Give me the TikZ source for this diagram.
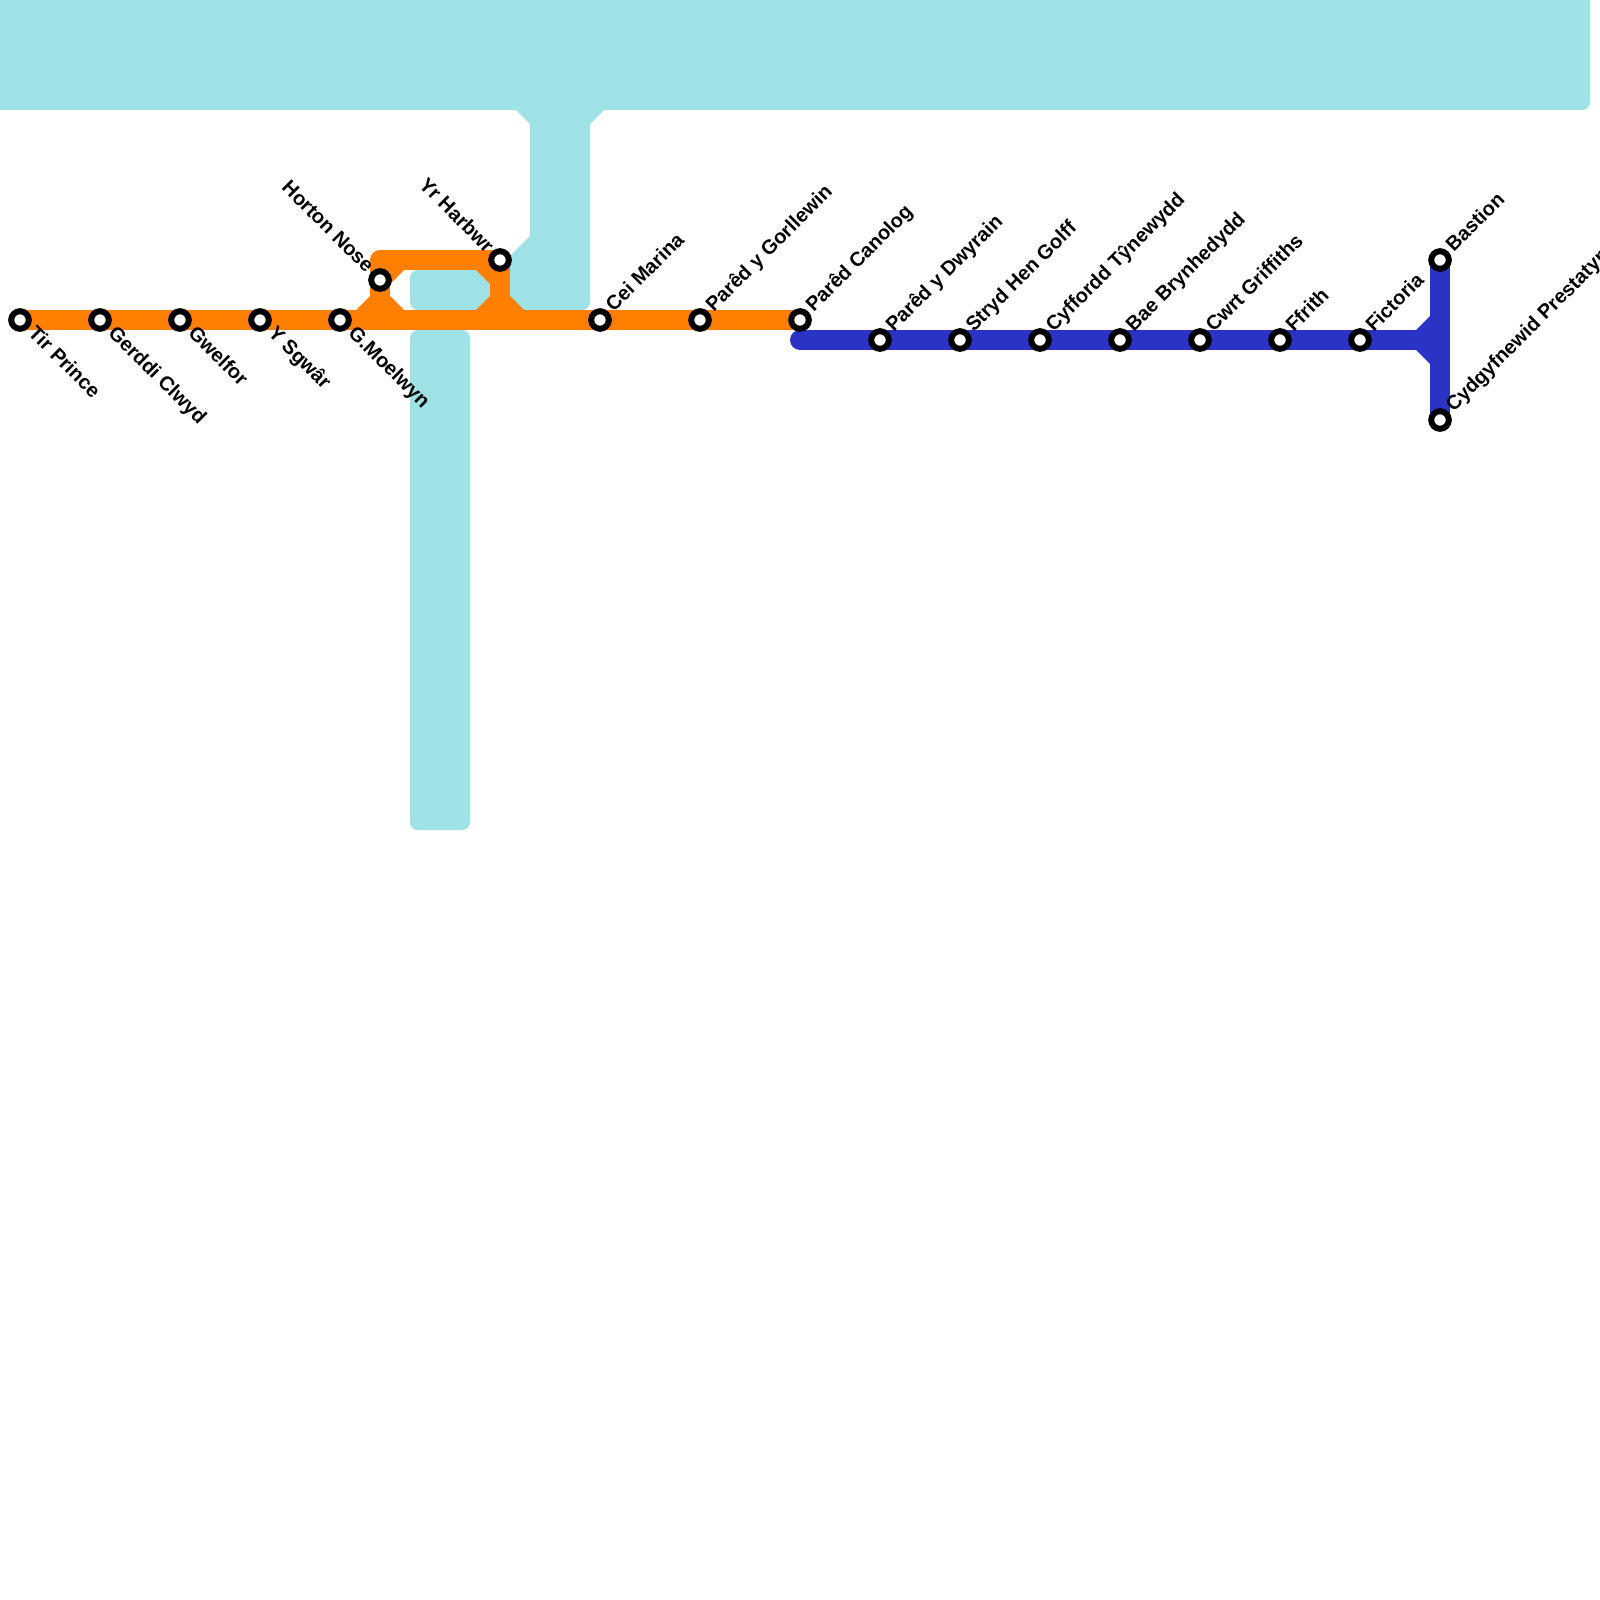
\documentclass[tikz,border=0pt]{standalone}
\usepackage{fontspec}
\usetikzlibrary{backgrounds}
\setmainfont{Liberation Sans}
\definecolor{water}{RGB}{158,226,229}
\definecolor{orangeline}{RGB}{255,128,0}
\definecolor{blueline}{RGB}{42,51,196}
\tikzset{
  x=0.5pt,y=-0.5pt,
  waterfill/.style={fill=water,draw=none},
  orangepath/.style={draw=orangeline,line width=10pt,line join=round},
  orangefill/.style={fill=orangeline,draw=none},
  bluepath/.style={draw=blueline,line width=10pt,line join=round},
  bluefill/.style={fill=blueline,draw=none},
  stn/.style={circle,draw=black,fill=white,line width=3pt,outer sep=0pt,minimum size=8.8pt,inner sep=0pt},
  lblup/.style={rotate=45,anchor=base west,inner sep=0pt,font=\fontsize{10}{12}\selectfont\bfseries},
  lbldown/.style={rotate=-45,anchor=base west,inner sep=0pt,font=\fontsize{10}{12}\selectfont\bfseries},
  lblback/.style={rotate=-45,anchor=base east,inner sep=0pt,font=\fontsize{10}{12}\selectfont\bfseries},
}
\begin{document}
\begin{tikzpicture}
\useasboundingbox (0,0) rectangle (1600,1600);
% junction coordinates
\coordinate (jh) at (380,320);
\coordinate (jh2) at (500,320);
\coordinate (jc) at (380,260);
\coordinate (jb) at (1440,340);
\coordinate (b0) at (800,340);
% stations
\node[stn] (s1) at (20,320) {};
\node[stn] (s2) at (100,320) {};
\node[stn] (s3) at (180,320) {};
\node[stn] (s4) at (260,320) {};
\node[stn] (s5) at (340,320) {};
\node[stn] (s6) at (380,280) {};
\node[stn] (s7) at (500,260) {};
\node[stn] (s8) at (600,320) {};
\node[stn] (s9) at (700,320) {};
\node[stn] (s10) at (800,320) {};
\node[stn] (s11) at (880,340) {};
\node[stn] (s12) at (960,340) {};
\node[stn] (s13) at (1040,340) {};
\node[stn] (s14) at (1120,340) {};
\node[stn] (s15) at (1200,340) {};
\node[stn] (s16) at (1280,340) {};
\node[stn] (s17) at (1360,340) {};
\node[stn] (s18) at (1440,260) {};
\node[stn] (s19) at (1440,420) {};
\begin{scope}[on background layer]
% water
\fill[waterfill,rounded corners=4pt] (-40,-40) rectangle (1590,110);
\fill[waterfill] (516,110) -- (530,124) -- (590,124) -- (604,110) -- cycle;
\fill[waterfill] (530,100) -- (530,236) -- (500,266) -- (500,310) [rounded corners=4pt] -- (590,310) [sharp corners] -- (590,100) -- cycle;
\fill[waterfill,rounded corners=4pt] (410,270) rectangle (520,310);
\fill[waterfill,rounded corners=4pt] (410,330) rectangle (470,830);
% blue line
\fill[bluefill] (1416,330) -- (1430,316) -- (1430,364) -- (1416,350) -- cycle;
\draw[bluepath,line cap=round] (b0) -- (jb);
\draw[bluepath] (s18.center) -- (s19.center);
% orange line
\fill[orangefill] (356,310) -- (370,296) -- (390,296) -- (404,310) -- cycle;
\fill[orangefill] (476,310) -- (490,296) -- (510,296) -- (524,310) -- cycle;
\fill[orangefill] (404,270) -- (390,284) -- (390,270) -- cycle;
\fill[orangefill] (476,270) -- (490,284) -- (490,270) -- cycle;
\draw[orangepath] (s1.center) -- (s10.center);
\draw[orangepath] (jh) -- (jc) -- (s7.center) -- (jh2);
\end{scope}
% labels
\node[lbldown] (l1) at ([shift={(7,14)}]s1.center) {Tir Prince};
\node[lbldown] (l2) at ([shift={(7,14)}]s2.center) {Gerddi Clwyd};
\node[lbldown] (l3) at ([shift={(7,14)}]s3.center) {Gwelfor};
\node[lbldown] (l4) at ([shift={(7,14)}]s4.center) {Y Sgwâr};
\node[lbldown] (l5) at ([shift={(7,14)}]s5.center) {G.Moelwyn};
\node[lblback] (l6) at ([shift={(-14,-6)}]s6.center) {Horton Nose};
\node[lblback] (l7) at ([shift={(-14,-6)}]s7.center) {Yr Harbwr};
\node[lblup] (l8) at ([shift={(13.5,-7)}]s8.center) {Cei Marina};
\node[lblup] (l9) at ([shift={(13.5,-7)}]s9.center) {Parêd y Gorllewin};
\node[lblup] (l10) at ([shift={(13.5,-7)}]s10.center) {Parêd Canolog};
\node[lblup] (l11) at ([shift={(13.5,-7)}]s11.center) {Parêd y Dwyrain};
\node[lblup] (l12) at ([shift={(13.5,-7)}]s12.center) {Stryd Hen Golff};
\node[lblup] (l13) at ([shift={(13.5,-7)}]s13.center) {Cyffordd Tŷnewydd};
\node[lblup] (l14) at ([shift={(13.5,-7)}]s14.center) {Bae Brynhedydd};
\node[lblup] (l15) at ([shift={(13.5,-7)}]s15.center) {Cwrt Griffiths};
\node[lblup] (l16) at ([shift={(13.5,-7)}]s16.center) {Ffrith};
\node[lblup] (l17) at ([shift={(13.5,-7)}]s17.center) {Fictoria};
\node[lblup] (l18) at ([shift={(13.5,-7)}]s18.center) {Bastion};
\node[lblup] (l19) at ([shift={(13.5,-7)}]s19.center) {Cydgyfnewid Prestatyn};
\end{tikzpicture}
\end{document}
